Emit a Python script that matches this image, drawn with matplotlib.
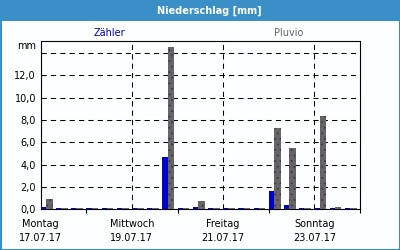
import numpy as np
import matplotlib
matplotlib.use('Agg')
import matplotlib.pyplot as plt
from matplotlib.patches import Rectangle

# 3 intervals (8 h) per day, 17.07.17 .. 23.07.17
first_day = 17
per_day = 3
zaehler = [0.2, 0.1, 0.1,
           0.1, 0.1, 0.1,
           0.1, 0.1, 4.7,
           0.1, 0.25, 0.1,
           0.1, 0.1, 0.1,
           1.65, 0.4, 0.1,
           0.15, 0.1, 0.1]
pluvio = [0.9, 0.1, 0.1,
          0.1, 0.1, 0.1,
          0.1, 0.1, 14.5,
          0.1, 0.75, 0.1,
          0.1, 0.1, 0.1,
          7.3, 5.5, 0.1,
          8.4, 0.2, 0.1]
day_labels = ['Montag\n17.07.17', 'Mittwoch\n19.07.17',
              'Freitag\n21.07.17', 'Sonntag\n23.07.17']
label_days = [17, 19, 21, 23]
yticks = [0, 2, 4, 6, 8, 10, 12]

frame_blue = '#3a8fc6'
bar_blue = '#0000c8'
bar_gray = '#666466'
bg = '#fcfeff'

plt.rcParams['font.family'] = 'DejaVu Sans'
plt.rcParams['font.size'] = 7
plt.rcParams['hatch.linewidth'] = 0.6

fig = plt.figure(figsize=(4, 2.5), dpi=100, facecolor=bg)
W, H = 400, 250
ax = fig.add_axes([40.7 / W, (H - 209.3) / H, (360 - 40.7) / W, (209.3 - 40.7) / H])
ax.set_facecolor(bg)

x = first_day + np.arange(len(zaehler)) / per_day
bw, gw = 0.116, 0.143
ax.bar(x, zaehler, width=bw, align='edge', color=bar_blue, lw=0, zorder=3)
ax.bar(x + bw, pluvio, width=gw, align='edge', color=bar_gray, lw=0,
       hatch='...', edgecolor='#3c3c3c', zorder=3)

ax.set_xlim(first_day, first_day + 7)
ax.set_ylim(0, 15.1)

ax.set_yticks(yticks + [14])
ax.set_yticklabels([f'{v:.1f}'.replace('.', ',') for v in yticks] + [''])
ax.tick_params(axis='y', length=0, pad=3.4, labelsize=7)
ax.annotate('mm', xy=(0, 14.65), xycoords=('axes fraction', 'data'),
            xytext=(-3.4, 0), textcoords='offset points',
            ha='right', va='center', fontsize=7)

ax.set_xticks(label_days)
ax.set_xticklabels(day_labels, linespacing=1.55)
ax.set_xticks([18, 20, 22, 24], minor=True)
ax.tick_params(axis='x', which='major', length=0, pad=7, labelsize=7)
ax.tick_params(axis='x', which='minor', length=3, width=0.8, direction='out')

ax.set_axisbelow(True)
ax.grid(True, which='major', color='black', lw=0.75, linestyle=(0, (5, 4)))
for s in ax.spines.values():
    s.set_linewidth(0.8)
    s.set_color('black')

# header bar and frame
fig.patches.append(Rectangle((0, 229 / H), 1, 21 / H, transform=fig.transFigure,
                             facecolor=frame_blue, edgecolor='none', zorder=0))
fig.patches.append(Rectangle((0, 0), 1, 1, transform=fig.transFigure, fill=False,
                             edgecolor=frame_blue, lw=2.2, zorder=5))
fig.text(209.5 / W, 1 - 10.5 / H, 'Niederschlag [mm]', color='white',
         fontweight='bold', fontsize=7, ha='center', va='center')
fig.text(109.5 / W, 1 - 32.5 / H, 'Zähler', color=bar_blue, fontsize=7,
         ha='center', va='center')
fig.text(289 / W, 1 - 32.5 / H, 'Pluvio', color='#64646e', fontsize=7,
         ha='center', va='center')

fig.savefig('out.png', dpi=100, facecolor=bg)
